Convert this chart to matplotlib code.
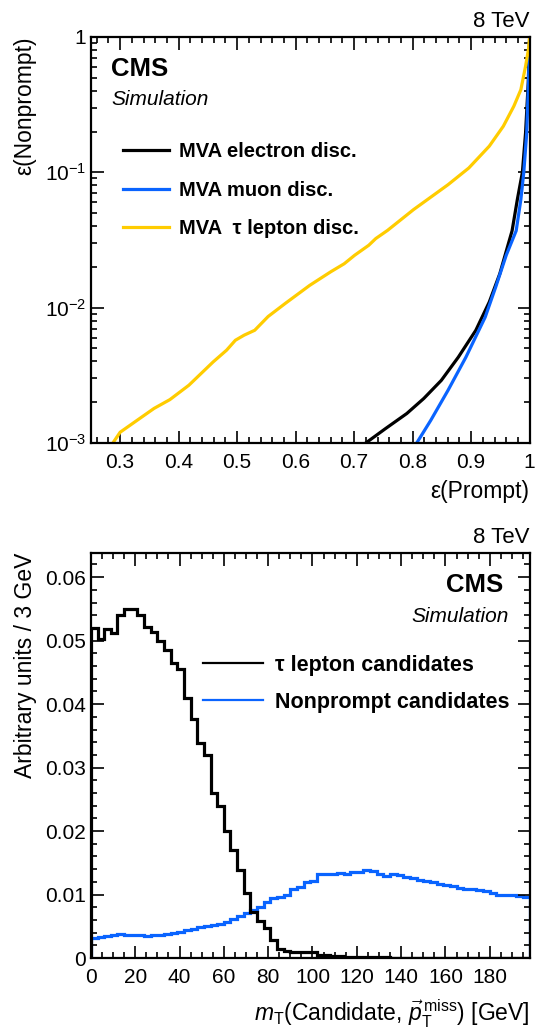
import numpy as np
import matplotlib
matplotlib.use("Agg")
import matplotlib.pyplot as plt
from matplotlib.ticker import MultipleLocator, LogLocator, NullFormatter, FuncFormatter

plt.rcParams['font.family'] = ['Liberation Sans', 'DejaVu Sans']
plt.rcParams['mathtext.fontset'] = 'custom'
plt.rcParams['mathtext.rm'] = 'Liberation Sans'
plt.rcParams['mathtext.it'] = 'Liberation Sans:italic'
plt.rcParams['mathtext.bf'] = 'Liberation Sans:bold'

# ROC curves (efficiency prompt vs nonprompt)
ele_x = [0.72, 0.754, 0.790, 0.819, 0.849, 0.878, 0.908, 0.931, 0.949, 0.962, 0.970, 0.979, 0.9876, 0.993, 0.9976, 1.0]
ele_y = [1e-3, 1.28e-3, 1.65e-3, 2.13e-3, 2.9e-3, 4.3e-3, 6.8e-3, 1.10e-2, 1.78e-2, 2.8e-2, 3.7e-2, 0.063, 0.1, 0.195, 0.457, 1.0]
muo_x = [0.807, 0.831, 0.8605, 0.891, 0.924, 0.942, 0.960, 0.977, 0.985, 0.990, 0.995, 0.998, 1.0]
muo_y = [1e-3, 1.47e-3, 2.45e-3, 4.3e-3, 8.5e-3, 1.42e-2, 2.44e-2, 3.7e-2, 0.063, 0.1, 0.195, 0.457, 1.0]
tau_x = [0.2876, 0.30, 0.329, 0.358, 0.385, 0.4175, 0.459, 0.482, 0.497, 0.512, 0.530, 0.553, 0.583,
         0.624, 0.660, 0.683, 0.701, 0.725, 0.737, 0.757, 0.8015, 0.8605, 0.896, 0.931, 0.955, 0.973,
         0.985, 0.993, 0.998, 1.0]
tau_y = [1e-3, 1.2e-3, 1.47e-3, 1.8e-3, 2.09e-3, 2.67e-3, 3.97e-3, 4.85e-3, 5.74e-3, 6.26e-3, 6.8e-3,
         8.6e-3, 1.08e-2, 1.46e-2, 1.84e-2, 2.11e-2, 2.44e-2, 2.89e-2, 3.24e-2, 3.72e-2, 5.3e-2, 8.1e-2,
         0.1076, 0.156, 0.219, 0.308, 0.408, 0.607, 0.81, 1.0]

# mT histograms, 3 GeV bins from 0 to 198
bin_width = 3
n_bins = 66
tau_hist = [0.0520, 0.0503, 0.0518, 0.0512, 0.0540, 0.0550, 0.0550, 0.0541, 0.0522, 0.0514,
            0.0500, 0.0485, 0.0465, 0.0456, 0.0410, 0.0376, 0.0338, 0.0320, 0.0260, 0.0239,
            0.0200, 0.0170, 0.0139, 0.0102, 0.0073, 0.0059, 0.0047, 0.0028, 0.0014, 0.0011,
            0.0010, 0.0010, 0.0010, 0.0010, 0.0005, 0.0004, 0.0003, 0.0003, 0.0002, 0.0002,
            0.0001, 0.0001, 0.0001, 0.0001, 0.00008, 0.00006, 0.00005, 0.00005, 0.00004, 0.00004,
            0.00003, 0.00003, 0.00003, 0.00002, 0.00002, 0.00002, 0.00002, 0.00002, 0.00001, 0.00001,
            0.00001, 0.00001, 0.00001, 0.00001, 0.00001, 0.00001]
np_hist = [0.0031, 0.0033, 0.0035, 0.0037, 0.0038, 0.0037, 0.0036, 0.0036, 0.0035, 0.0036,
           0.0036, 0.0038, 0.0040, 0.0041, 0.0044, 0.0046, 0.0049, 0.0050, 0.0052, 0.0054,
           0.0057, 0.0061, 0.0066, 0.0071, 0.0076, 0.0080, 0.0088, 0.0094, 0.0096, 0.0100,
           0.0108, 0.0112, 0.0120, 0.0122, 0.0132, 0.0132, 0.0133, 0.0134, 0.0133, 0.0135,
           0.0136, 0.0138, 0.0137, 0.0133, 0.0129, 0.0132, 0.0131, 0.0127, 0.0126, 0.0123,
           0.0122, 0.0119, 0.0117, 0.0115, 0.0113, 0.0111, 0.0109, 0.0108, 0.0107, 0.0106,
           0.0103, 0.0100, 0.0099, 0.0100, 0.0097, 0.0096]

black = '#000000'
blue = '#0a64ff'
yellow = '#ffcc00'

fig = plt.figure(figsize=(5.41, 10.33), dpi=100)
ax1 = fig.add_axes([0.168, 0.5712, 0.811, 0.393])
ax2 = fig.add_axes([0.168, 0.0726, 0.811, 0.392])

for ax in (ax1, ax2):
    ax.tick_params(which='both', direction='in', top=True, right=True, labelsize=15, width=1.2)
    ax.tick_params(which='major', length=9)
    ax.tick_params(which='minor', length=4.5)
    for s in ax.spines.values():
        s.set_linewidth(1.6)

# --- top panel: ROC curves ---
ax1.plot(ele_x, ele_y, color=black, lw=2.3, label='MVA electron disc.')
ax1.plot(muo_x, muo_y, color=blue, lw=2.3, label='MVA muon disc.')
ax1.plot(tau_x, tau_y, color=yellow, lw=2.3, label='MVA  \u03c4 lepton disc.')
ax1.set_yscale('log')
ax1.set_xlim(0.25, 1.0)
ax1.set_ylim(1e-3, 1)
ax1.set_yticks([1e-3, 1e-2, 1e-1, 1], [r'$10^{-3}$', r'$10^{-2}$', r'$10^{-1}$', '1'])
ax1.yaxis.set_minor_locator(LogLocator(base=10, subs=np.arange(2, 10)))
ax1.yaxis.set_minor_formatter(NullFormatter())
ax1.xaxis.set_major_locator(MultipleLocator(0.1))
ax1.xaxis.set_minor_locator(MultipleLocator(0.02))
ax1.xaxis.set_major_formatter(FuncFormatter(lambda v, p: '%g' % round(v, 2)))
ax1.tick_params(axis='x', pad=7)
ax1.set_xlabel('\u03b5(Prompt)', fontsize=16.5, loc='right', labelpad=6)
ax1.set_ylabel('\u03b5(Nonprompt)', fontsize=16.5, loc='top', labelpad=6)
ax1.text(1.0, 1.012, '8 TeV', transform=ax1.transAxes, ha='right', va='bottom', fontsize=16)
ax1.text(0.046, 0.92, 'CMS', transform=ax1.transAxes, ha='left', va='center', fontsize=18.5, fontweight='bold')
ax1.text(0.046, 0.845, 'Simulation', transform=ax1.transAxes, ha='left', va='center', fontsize=15, style='italic')
ax1.legend(loc='upper left', bbox_to_anchor=(0.055, 0.76), frameon=False,
           prop={'weight': 'bold', 'size': 14.5}, handlelength=2.3, handletextpad=0.5,
           labelspacing=0.95, borderaxespad=0)

# --- bottom panel: mT distributions ---
edges = np.arange(n_bins + 1) * bin_width
ax2.stairs(np_hist, edges, color=blue, lw=2.3)
ax2.stairs(tau_hist, edges, color=black, lw=2.3)
ax2.plot([], [], color=black, lw=1.6, label='\u03c4 lepton candidates')
ax2.plot([], [], color=blue, lw=1.6, label='Nonprompt candidates')
ax2.set_xlim(0, n_bins * bin_width)
ax2.set_ylim(0, 0.0638)
ax2.xaxis.set_major_locator(MultipleLocator(20))
ax2.xaxis.set_minor_locator(MultipleLocator(5))
ax2.yaxis.set_major_locator(MultipleLocator(0.01))
ax2.yaxis.set_minor_locator(MultipleLocator(0.002))
ax2.yaxis.set_major_formatter(FuncFormatter(lambda v, p: '%g' % round(v, 3)))
ax2.tick_params(axis='x', pad=7)
ax2.set_xlabel(r'$m_{\mathrm{T}}$(Candidate, $\vec{p}_{\mathrm{T}}^{\,\mathrm{miss}}$) [GeV]',
               fontsize=16.5, loc='right', labelpad=8)
ax2.set_ylabel('Arbitrary units / 3 GeV', fontsize=16.5, loc='top', labelpad=6)
ax2.text(1.0, 1.012, '8 TeV', transform=ax2.transAxes, ha='right', va='bottom', fontsize=16)
ax2.text(0.94, 0.92, 'CMS', transform=ax2.transAxes, ha='right', va='center', fontsize=18.5, fontweight='bold')
ax2.text(0.953, 0.843, 'Simulation', transform=ax2.transAxes, ha='right', va='center', fontsize=15, style='italic')
ax2.legend(loc='upper left', bbox_to_anchor=(0.235, 0.77), frameon=False,
           prop={'weight': 'bold', 'size': 15.5}, handlelength=2.8, handletextpad=0.55,
           labelspacing=0.75, borderaxespad=0)

fig.savefig('out.png', dpi=100)
